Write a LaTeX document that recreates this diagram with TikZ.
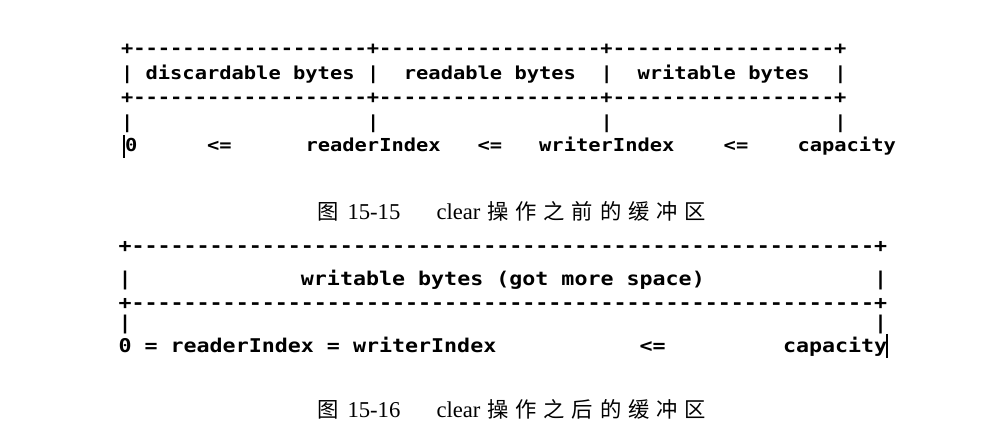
\documentclass[tikz,border=0pt]{standalone}
\usepackage{fontspec}
\setmainfont{Liberation Serif}
\newfontfamily\mono[FakeStretch=1.143,Ligatures=TeXOff]{DejaVu Sans Mono}
\newfontfamily\cjk{Noto Sans CJK SC}
\newcommand\cjsp{\hspace{5.2pt}}
\begin{document}
\begin{tikzpicture}[x=0.75pt,y=-0.75pt,
  tA/.style={font=\mono\bfseries\fontsize{13.4}{15}\selectfont,inner sep=0,outer sep=0,anchor=base west},
  tB/.style={font=\mono\bfseries\fontsize{14.2}{16}\selectfont,inner sep=0,outer sep=0,anchor=base west},
  caplat/.style={font=\fontsize{17}{20}\selectfont,inner sep=0,outer sep=0,anchor=base west},
  capcjk/.style={font=\cjk\fontsize{16}{20}\selectfont,inner sep=0,outer sep=0,anchor=base west},
  cursor/.style={line width=1.1pt}]
\useasboundingbox (0,0) rectangle (1000,441);
\fill[white] (0,0) rectangle (1000,441);
\def\LA{121}\def\PA{12.3}
\def\LB{118.5}\def\PB{13.03}
% ---------- top diagram ----------
\node[tA] (a1) at (\LA,54.5) {+-------------------+------------------+------------------+};
\node[tA] (a2a) at (\LA,80) {|};
\node[tA] (a2b) at ({\LA+2*\PA},80) {discardable bytes};
\node[tA] (a2c) at ({\LA+20*\PA},80) {|};
\node[tA] (a2d) at ({\LA+23*\PA},80) {readable bytes};
\node[tA] (a2e) at ({\LA+39*\PA},80) {|};
\node[tA] (a2f) at ({\LA+42*\PA},80) {writable bytes};
\node[tA] (a2g) at ({\LA+58*\PA},80) {|};
\node[tA] (a3) at (\LA,103.5) {+-------------------+------------------+------------------+};
\node[tA] (a4a) at (\LA,129) {|};
\node[tA] (a4b) at ({\LA+20*\PA},129) {|};
\node[tA] (a4c) at ({\LA+39*\PA},129) {|};
\node[tA] (a4d) at ({\LA+58*\PA},129) {|};
\node[tA] (a5a) at ({\LA+4},152) {0};
\node[tA] (a5b) at ({\LA+7*\PA},152) {<=};
\node[tA] (a5c) at ({\LA+15*\PA},152) {readerIndex};
\node[tA] (a5d) at ({\LA+29*\PA},152) {<=};
\node[tA] (a5e) at ({\LA+34*\PA},152) {writerIndex};
\node[tA] (a5f) at ({\LA+49*\PA},152) {<=};
\node[tA] (a5g) at ({\LA+55*\PA},152) {capacity};
\coordinate (cu1a) at (124,135);
\coordinate (cu1b) at (124,158);
\draw[cursor] (cu1a) -- (cu1b);
% ---------- caption 1 ----------
\node[capcjk] (c1a) at (317,220) {图};
\node[caplat] (c1b) at (347.5,220) {15-15};
\node[caplat] (c1c) at (436.5,220) {clear};
\node[capcjk] (c1d) at (487,220) {操\cjsp 作\cjsp 之\cjsp 前\cjsp 的\cjsp 缓\cjsp 冲\cjsp 区};
% ---------- bottom diagram ----------
\node[tB] (b1) at (\LB,252.5) {+---------------------------------------------------------+};
\node[tB] (b2a) at (\LB,285.5) {|};
\node[tB] (b2b) at ({\LB+14*\PB},285.5) {writable bytes (got more space)};
\node[tB] (b2c) at ({\LB+58*\PB},285.5) {|};
\node[tB] (b3) at (\LB,309.5) {+---------------------------------------------------------+};
\node[tB] (b4a) at (\LB,330) {|};
\node[tB] (b4b) at ({\LB+58*\PB},330) {|};
\node[tB] (b5a) at (\LB,353) {0 = readerIndex = writerIndex};
\node[tB] (b5b) at ({\LB+40*\PB},353) {<=};
\node[tB] (b5c) at ({\LB+51*\PB},353) {capacity};
\coordinate (cu2a) at (887,334);
\coordinate (cu2b) at (887,358);
\draw[cursor] (cu2a) -- (cu2b);
% ---------- caption 2 ----------
\node[capcjk] (c2a) at (317,418) {图};
\node[caplat] (c2b) at (347.5,418) {15-16};
\node[caplat] (c2c) at (436.5,418) {clear};
\node[capcjk] (c2d) at (487,418) {操\cjsp 作\cjsp 之\cjsp 后\cjsp 的\cjsp 缓\cjsp 冲\cjsp 区};
\end{tikzpicture}
\end{document}
